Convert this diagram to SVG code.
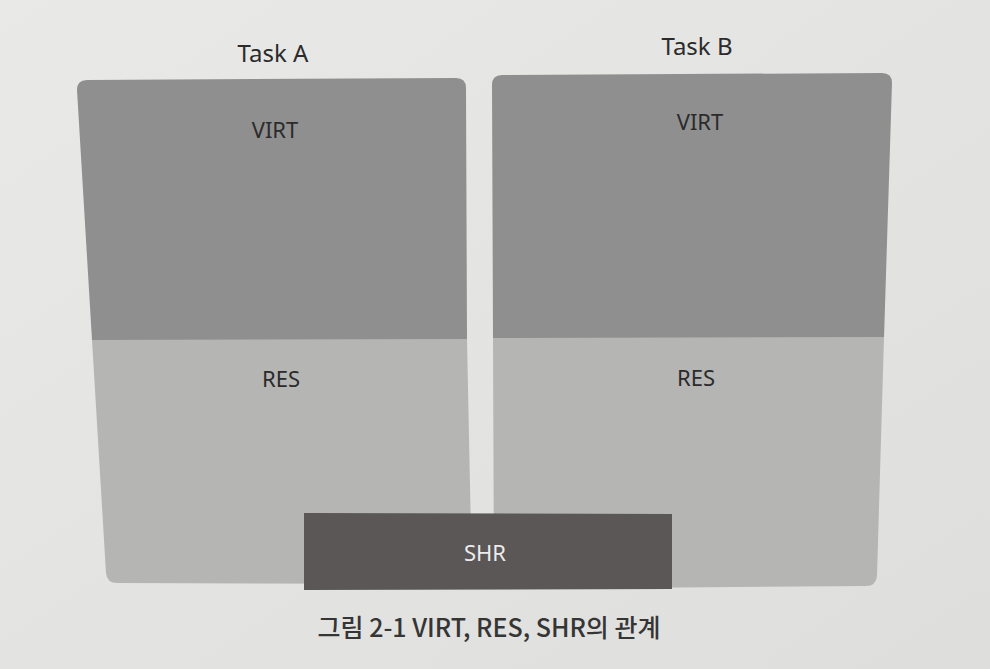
<svg xmlns="http://www.w3.org/2000/svg" width="990" height="669" viewBox="0 0 990 669">
<defs>
<linearGradient id="bg" x1="0" y1="0" x2="1" y2="1">
<stop offset="0" stop-color="#e9e9e8"/>
<stop offset="1" stop-color="#dededc"/>
</linearGradient>
<style>
text{font-family:"Noto Sans","Noto Sans CJK KR",sans-serif;text-anchor:middle;fill:#2b2b2b}
.title{font-size:24px}
.lbl{font-size:22px}
.virt{fill:#8f8f8f}
.res{fill:#b5b5b4}
.shr{fill:#5b5757}
.shrt{fill:#ececec}
.cap{font-family:"Noto Sans CJK KR","Noto Sans",sans-serif;font-size:25px;font-weight:500;fill:#353535}
</style>
</defs>
<rect width="990" height="669" fill="url(#bg)"/>
<g id="taskA">
<text class="title" x="273" y="62">Task A</text>
<path class="virt" d="M77,90 Q77,80 87,80 L456,78 Q466,78 466,88 L467,340 L92,340 Z"/>
<path class="res" d="M92,340 L467,339 L472,584 L117,583 Q107,583 106,573 Z"/>
<text class="lbl" x="275" y="138">VIRT</text>
<text class="lbl" x="281" y="387">RES</text>
</g>
<g id="taskB">
<text class="title" x="697" y="55">Task B</text>
<path class="virt" d="M492,85 Q492,75 502,75 L882,73 Q892,73 892,83 L884,338 L493,338 Z"/>
<path class="res" d="M493,338 L884,337 L877,576 Q876,586 866,586 L494,589 Z"/>
<text class="lbl" x="700" y="130">VIRT</text>
<text class="lbl" x="696" y="386">RES</text>
</g>
<g id="shr">
<path class="shr" d="M304,513 L672,514 L672,589 L304,590 Z"/>
<text class="lbl shrt" x="485" y="561">SHR</text>
</g>
<g id="connectors"/>
<text class="cap" x="489" y="637">그림 2-1 VIRT, RES, SHR의 관계</text>
</svg>
